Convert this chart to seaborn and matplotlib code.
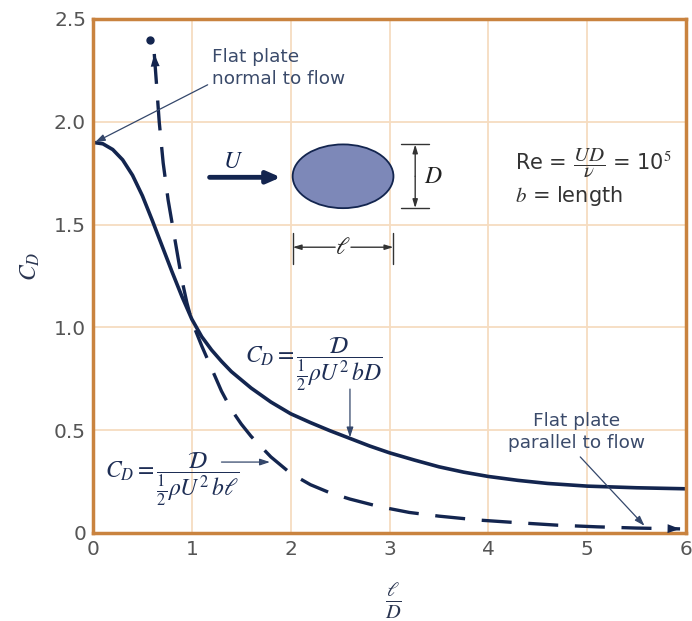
import numpy as np
import pandas as pd
import seaborn as sns
import matplotlib.pyplot as plt
from matplotlib.patches import Ellipse

sns.set_style("white")
plt.rcParams["font.family"] = ["DejaVu Sans"]
plt.rcParams["mathtext.fontset"] = "stix"

NAVY = "#13254f"
FRAME = "#c9833f"
GRID = "#f6dcc0"
TICK = "#555555"
ANN = "#3a4a6a"

# C_D based on frontal area (b*D)
ld_solid = [0.0, 0.1, 0.2, 0.3, 0.4, 0.5, 0.6, 0.7, 0.8, 0.9, 1.0, 1.1, 1.2,
            1.3, 1.4, 1.6, 1.8, 2.0, 2.2, 2.4, 2.6, 2.8, 3.0, 3.25, 3.5, 3.75,
            4.0, 4.3, 4.6, 5.0, 5.5, 6.0]
cd_frontal = [1.900, 1.893, 1.865, 1.815, 1.740, 1.640, 1.520, 1.395, 1.270,
              1.150, 1.040, 0.955, 0.890, 0.835, 0.785, 0.705, 0.637, 0.580,
              0.537, 0.497, 0.460, 0.423, 0.390, 0.355, 0.322, 0.296, 0.275,
              0.256, 0.241, 0.228, 0.220, 0.215]

# C_D based on planform area (b*l)
ld_dashed = [0.62, 0.64, 0.67, 0.71, 0.76, 0.81, 0.86, 0.90, 0.95, 1.00, 1.10,
             1.20, 1.30, 1.40, 1.50, 1.60, 1.80, 2.00, 2.20, 2.40, 2.60, 2.90,
             3.20, 3.50, 3.90, 4.30, 4.70, 5.10, 5.50, 5.94]
cd_planform = [2.33, 2.20, 2.00, 1.80, 1.62, 1.48, 1.34, 1.23, 1.12, 1.03,
               0.91, 0.80, 0.69, 0.60, 0.53, 0.47, 0.37, 0.29, 0.235, 0.195,
               0.165, 0.128, 0.100, 0.082, 0.063, 0.050, 0.038, 0.030, 0.024,
               0.020]

dot_point = (0.58, 2.40)

x_ticks = [0, 1, 2, 3, 4, 5, 6]
y_ticks = [0, 0.5, 1.0, 1.5, 2.0, 2.5]
y_tick_labels = ["0", "0.5", "1.0", "1.5", "2.0", "2.5"]

df_solid = pd.DataFrame({"ld": ld_solid, "cd": cd_frontal})
df_dash = pd.DataFrame({"ld": ld_dashed, "cd": cd_planform})

fig = plt.figure(figsize=(6.92, 6.21), dpi=100)
ax = fig.add_axes([93 / 692, 1 - 533 / 621, 593 / 692, 514 / 621])

sns.lineplot(data=df_solid, x="ld", y="cd", ax=ax, color=NAVY, lw=2.6,
             sort=False, estimator=None)
ax.lines[-1].set_solid_joinstyle("round")
sns.lineplot(data=df_dash, x="ld", y="cd", ax=ax, color=NAVY, lw=2.4,
             sort=False, estimator=None, dashes=False)
ax.lines[-1].set_dashes((9, 5))
ax.lines[-1].set_dash_capstyle("butt")
ax.lines[-1].set_dash_joinstyle("round")

# arrowheads at both ends of dashed curve
aprops = dict(arrowstyle="-|>,head_length=0.9,head_width=0.32", color=NAVY,
              lw=0, shrinkA=0, shrinkB=0)
ax.annotate("", xy=(ld_dashed[0], cd_planform[0]),
            xytext=(ld_dashed[1], cd_planform[1]), arrowprops=aprops)
ax.annotate("", xy=(ld_dashed[-1], cd_planform[-1]),
            xytext=(ld_dashed[-2], cd_planform[-2]), arrowprops=aprops)
ax.plot(*dot_point, "o", color=NAVY, ms=5)

ax.set_xlim(0, 6)
ax.set_ylim(0, 2.5)
ax.set_xticks(x_ticks)
ax.set_yticks(y_ticks)
ax.set_yticklabels(y_tick_labels)
ax.tick_params(length=0, labelsize=14.5, colors=TICK, pad=5)
ax.grid(True, color=GRID, lw=1.3)
for s in ax.spines.values():
    s.set_color(FRAME)
    s.set_linewidth(2.5)
ax.set_xlabel("")
ax.set_ylabel("")
fig.text(30 / 692, 1 - 266 / 621, r"$C_D$", rotation=90, fontsize=17,
         ha="center", va="center", color="#2a3550")
fig.text(393 / 692, 1 - 601 / 621, r"$\frac{\ell}{D}$", fontsize=21,
         ha="center", va="center", color="#2a3550")

# inset: ellipse, flow arrow and dimensions
ax.add_patch(Ellipse((2.53, 1.735), 1.02, 0.31, facecolor="#7d88b8",
                     edgecolor=NAVY, lw=1.3, zorder=3))
ax.annotate("", xy=(1.90, 1.73), xytext=(1.18, 1.73),
            arrowprops=dict(arrowstyle="-|>,head_length=0.8,head_width=0.35",
                            color=NAVY, lw=3.5, shrinkA=0, shrinkB=0))
ax.text(1.42, 1.81, r"$U$", fontsize=17, ha="center", va="center", color=NAVY)

dim = dict(arrowstyle="-|>,head_length=0.5,head_width=0.15", color="#333333",
           lw=1, shrinkA=0, shrinkB=0)
ax.plot([3.12, 3.40], [1.89, 1.89], color="#333333", lw=1)
ax.plot([3.12, 3.40], [1.58, 1.58], color="#333333", lw=1)
ax.annotate("", xy=(3.26, 1.89), xytext=(3.26, 1.735), arrowprops=dim)
ax.annotate("", xy=(3.26, 1.58), xytext=(3.26, 1.735), arrowprops=dim)
ax.text(3.44, 1.735, r"$D$", fontsize=17, ha="center", va="center",
        color="#222222")

ax.plot([2.02, 2.02], [1.31, 1.46], color="#333333", lw=1)
ax.plot([3.04, 3.04], [1.31, 1.46], color="#333333", lw=1)
ax.annotate("", xy=(2.02, 1.39), xytext=(2.45, 1.39), arrowprops=dim)
ax.annotate("", xy=(3.04, 1.39), xytext=(2.61, 1.39), arrowprops=dim)
ax.text(2.53, 1.39, r"$\ell$", fontsize=17, ha="center", va="center",
        color="#222222")

ax.text(4.27, 1.80, r"Re = $\dfrac{UD}{\nu}$ = 10$^5$", fontsize=15,
        ha="left", va="center", color="#333333")
ax.text(4.27, 1.64, r"$b$ = length", fontsize=15, ha="left", va="center",
        color="#333333")

# annotations
thin = dict(arrowstyle="-|>,head_length=0.6,head_width=0.2", color="#34476b",
            lw=0.9, shrinkA=0, shrinkB=0)
ax.text(1.20, 2.26, "Flat plate\nnormal to flow", fontsize=13.3, ha="left",
        va="center", color=ANN, linespacing=1.3)
ax.annotate("", xy=(0.02, 1.90), xytext=(1.16, 2.18), arrowprops=thin)

ax.text(4.89, 0.49, "Flat plate\nparallel to flow", fontsize=13.3,
        ha="center", va="center", color=ANN, linespacing=1.3)
ax.annotate("", xy=(5.58, 0.035), xytext=(4.93, 0.37), arrowprops=thin)

ax.text(1.54, 0.82, r"$C_D = \dfrac{\mathcal{D}}{\frac{1}{2}\rho U^2\, bD}$",
        fontsize=17, ha="left", va="center", color="#1e2e55")
ax.annotate("", xy=(2.60, 0.465), xytext=(2.60, 0.70), arrowprops=thin)

ax.text(0.12, 0.26, r"$C_D = \dfrac{\mathcal{D}}{\frac{1}{2}\rho U^2\, b\ell}$",
        fontsize=17, ha="left", va="center", color="#1e2e55")
ax.annotate("", xy=(1.79, 0.345), xytext=(1.30, 0.345), arrowprops=thin)

fig.savefig("out.png", dpi=100)
